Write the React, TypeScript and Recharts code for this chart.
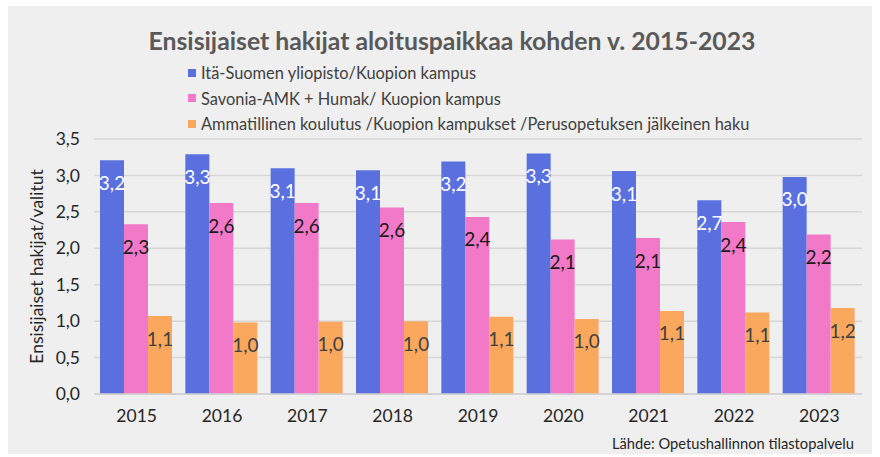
import React from "react";
import {
  Bar,
  BarChart,
  CartesianGrid,
  LabelList,
  XAxis,
  YAxis,
} from "recharts";

const years = ["2015", "2016", "2017", "2018", "2019", "2020", "2021", "2022", "2023"];
const uef = [3.21, 3.29, 3.1, 3.07, 3.19, 3.3, 3.06, 2.66, 2.98];
const savonia = [2.33, 2.62, 2.62, 2.56, 2.43, 2.12, 2.14, 2.36, 2.19];
const ammatillinen = [1.07, 0.98, 0.99, 1.0, 1.06, 1.03, 1.14, 1.12, 1.18];
const yTicks = [0, 0.5, 1, 1.5, 2, 2.5, 3, 3.5];

const series = [
  { key: "uef", name: "Itä-Suomen yliopisto/Kuopion kampus", color: "#5b70df", label: "#ffffff" },
  { key: "savonia", name: "Savonia-AMK + Humak/ Kuopion kampus", color: "#f279c8", label: "#1a1a1a" },
  {
    key: "amm",
    name: "Ammatillinen koulutus /Kuopion kampukset /Perusopetuksen jälkeinen haku",
    color: "#fba85f",
    label: "#404040",
  },
];

const data = years.map((y, i) => ({
  year: y,
  uef: uef[i],
  savonia: savonia[i],
  amm: ammatillinen[i],
}));

const FONT = "Lato, 'Open Sans', sans-serif";
const fmt = (v: number) => v.toFixed(1).replace(".", ",");

function makeLabel(color: string) {
  return (props: any) => {
    const { x, y, width, value } = props;
    return (
      <text
        x={x + width / 2}
        y={y + 22}
        fill={color}
        fontSize={19}
        fontFamily={FONT}
        textAnchor="middle"
        dominantBaseline="central"
      >
        {fmt(value)}
      </text>
    );
  };
}

function LegendBox() {
  return (
    <div
      style={{
        position: "absolute",
        left: 180,
        top: 54,
        fontFamily: FONT,
        fontSize: 16.4,
        color: "#404040",
        whiteSpace: "nowrap",
      }}
    >
      {series.map((s) => (
        <div key={s.key} style={{ display: "flex", alignItems: "center", height: 25.5 }}>
          <span
            style={{
              display: "inline-block",
              width: 8,
              height: 8,
              background: s.color,
              marginRight: 5,
            }}
          />
          <span>{s.name}</span>
        </div>
      ))}
    </div>
  );
}

export default function App() {
  return (
    <div
      style={{
        position: "absolute",
        left: 0,
        top: 0,
        width: 880,
        height: 457,
        background: "#ffffff",
      }}
    >
      <div
        style={{
          position: "absolute",
          left: 8,
          top: 6,
          width: 864,
          height: 448,
          background: "#efefef",
        }}
      >
        <BarChart
          width={864}
          height={448}
          data={data}
          margin={{ top: 133, right: 10, bottom: 0, left: 0 }}
          barGap={0}
          barCategoryGap={6}
        >
          <CartesianGrid vertical={false} stroke="#d6d6d6" strokeWidth={1.5} />
          <XAxis
            dataKey="year"
            height={60}
            tickLine={false}
            tickSize={0}
            tickMargin={16}
            axisLine={{ stroke: "#d0d0d0", strokeWidth: 1.5 }}
            tick={{ fill: "#262626", fontSize: 17.5, fontFamily: FONT }}
          />
          <YAxis
            width={86}
            domain={[0, 3.5]}
            ticks={yTicks}
            tickFormatter={fmt}
            axisLine={false}
            tickLine={false}
            tickSize={0}
            tickMargin={14}
            tick={{ fill: "#262626", fontSize: 17.5, fontFamily: FONT }}
            label={{
              value: "Ensisijaiset hakijat/valitut",
              angle: -90,
              position: "insideLeft",
              dx: 24,
              style: { fill: "#262626", fontSize: 17.5, fontFamily: FONT, textAnchor: "middle" },
            }}
          />
          {series.map((s) => (
            <Bar
              key={s.key}
              dataKey={s.key}
              name={s.name}
              fill={s.color}
              isAnimationActive={false}
            >
              <LabelList dataKey={s.key} content={makeLabel(s.label)} />
            </Bar>
          ))}
        </BarChart>
        <div
          style={{
            position: "absolute",
            top: 20,
            left: 12,
            width: 864,
            textAlign: "center",
            fontFamily: FONT,
            fontWeight: 700,
            fontSize: 24.8,
            color: "#595959",
          }}
        >
          Ensisijaiset hakijat aloituspaikkaa kohden v. 2015-2023
        </div>
        <LegendBox />
        <div
          style={{
            position: "absolute",
            left: 604,
            top: 428,
            fontFamily: FONT,
            fontSize: 14.7,
            color: "#262626",
            whiteSpace: "nowrap",
          }}
        >
          Lähde: Opetushallinnon tilastopalvelu
        </div>
      </div>
    </div>
  );
}
